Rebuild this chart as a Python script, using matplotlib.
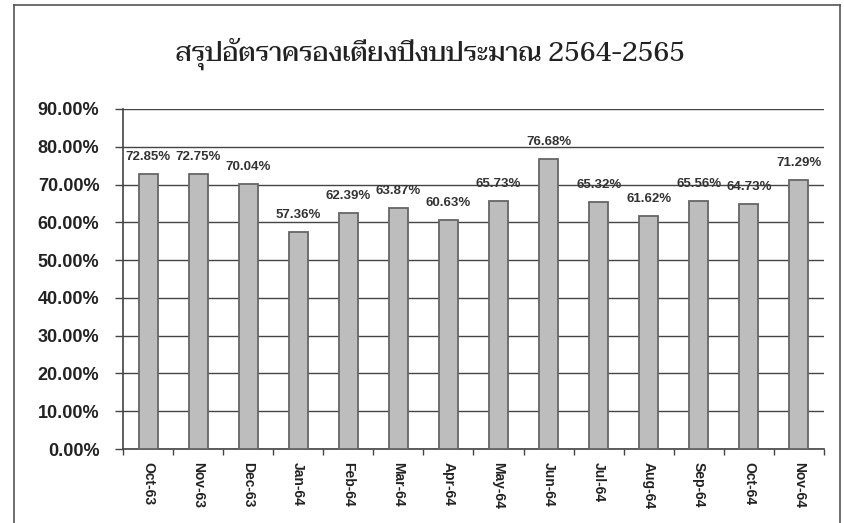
import matplotlib
matplotlib.use("Agg")
import matplotlib.pyplot as plt
from matplotlib.lines import Line2D
import numpy as np

# ---- data ----
title = "สรุปอัตราครองเตียงปีงบประมาณ 2564-2565"
months = ["Oct-63", "Nov-63", "Dec-63", "Jan-64", "Feb-64", "Mar-64", "Apr-64",
          "May-64", "Jun-64", "Jul-64", "Aug-64", "Sep-64", "Oct-64", "Nov-64"]
occupancy = [72.85, 72.75, 70.04, 57.36, 62.39, 63.87, 60.63,
             65.73, 76.68, 65.32, 61.62, 65.56, 64.73, 71.29]
yticks = [0, 10, 20, 30, 40, 50, 60, 70, 80, 90]

W, H = 845, 523
fig = plt.figure(figsize=(W / 100, H / 100), dpi=100)

# outer chart border
for xs, ys in [([14, 14], [H + 5, 5]), ([14, 840], [5, 5]), ([840, 840], [5, H + 5])]:
    fig.add_artist(Line2D([x / W for x in xs], [1 - y / H for y in ys],
                          color="#555555", lw=1.2, transform=fig.transFigure))

left, right, top0, bot0 = 123, 824, 109, 449
ax = fig.add_axes([left / W, 1 - bot0 / H, (right - left) / W, (bot0 - top0) / H])

x = np.arange(len(months))
ax.bar(x, occupancy, width=0.38, color="#bdbdbd", edgecolor="#666666",
       linewidth=1.3, zorder=3)

ax.set_xlim(-0.5, len(months) - 0.5)
ax.set_ylim(0, 90)
ax.set_yticks(yticks)
ax.set_yticklabels([f"{v:.2f}%" for v in yticks], fontsize=13,
                   fontweight="bold", family="Liberation Sans", color="#222222")
ax.yaxis.grid(True, color="#444444", lw=1.0, zorder=0)
ax.tick_params(axis="y", length=6, width=1.0, color="#444444", pad=11)

ax.set_xticks(x)
ax.set_xticklabels(months, rotation=270, fontsize=10, fontweight="bold",
                   family="Liberation Sans", color="#222222")
ax.tick_params(axis="x", length=0, pad=9)
ax.set_xticks(np.arange(len(months) + 1) - 0.5, minor=True)
ax.tick_params(axis="x", which="minor", length=4, width=1.0, color="#444444")

for s in ["top", "right"]:
    ax.spines[s].set_visible(False)
for s in ["left", "bottom"]:
    ax.spines[s].set_color("#444444")
    ax.spines[s].set_linewidth(1.2)

for xi, v in zip(x, occupancy):
    ax.annotate(f"{v:.2f}%", (xi, v), xytext=(0, 8), textcoords="offset points",
                ha="center", va="bottom", fontsize=9.5, fontweight="bold",
                family="Liberation Sans", color="#333333")

fig.text(430 / W, 1 - 54 / H, title, ha="center", va="center",
         fontsize=19, fontweight="medium", family="Taviraj", color="#222222")

fig.savefig("out.png", dpi=100)
